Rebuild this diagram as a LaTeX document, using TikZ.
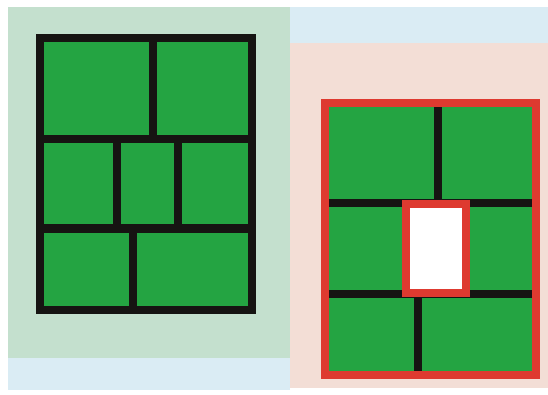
\documentclass[tikz,border=0pt]{standalone}
\definecolor{bgwhite}{RGB}{255,255,255}
\definecolor{sage}{RGB}{196,224,206}
\definecolor{paleblue}{RGB}{218,236,244}
\definecolor{palepink}{RGB}{243,222,214}
\definecolor{cellgreen}{RGB}{36,164,66}
\definecolor{framered}{RGB}{222,58,48}
\definecolor{lineblack}{RGB}{22,20,18}
\tikzset{
  blackline/.style={draw=lineblack,line width=8pt},
  redline/.style={draw=framered,line width=8.5pt},
  cell/.style={fill=cellgreen},
}
\begin{document}
\begin{tikzpicture}[x=1pt,y=-1pt]
\useasboundingbox (0,0) rectangle (548,395);
\fill[bgwhite] (0,0) rectangle (548,395);
% backgrounds
\fill[sage] (8,7) rectangle (290,358);
\fill[paleblue] (8,358) rectangle (290,390);
\fill[paleblue] (290,7) rectangle (548,43);
\fill[palepink] (290,43) rectangle (548,388);
% left panel
\fill[cell] (40,38) rectangle (252,310);
\draw[blackline] (153,38) -- (153,139);
\draw[blackline] (117,139) -- (117,228.5);
\draw[blackline] (178,139) -- (178,228.5);
\draw[blackline] (133,228.5) -- (133,310);
\draw[blackline] (40,139) -- (252,139);
\draw[blackline] (40,228.5) -- (252,228.5);
\draw[blackline] (40,38) rectangle (252,310);
% right panel
\fill[cell] (325,103) rectangle (536,375);
\draw[blackline] (437.5,103) -- (437.5,203);
\draw[blackline] (417.5,293.5) -- (417.5,375);
\draw[blackline] (325,203) -- (536,203);
\draw[blackline] (325,293.5) -- (536,293.5);
\draw[redline,fill=white] (406,204) rectangle (466,293);
\draw[redline] (325,103) rectangle (536,375);
\end{tikzpicture}
\end{document}
